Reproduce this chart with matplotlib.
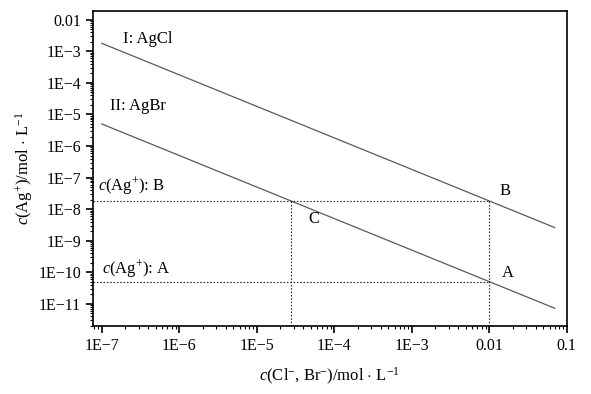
import matplotlib
matplotlib.use("Agg")
import matplotlib.pyplot as plt
from matplotlib.ticker import FixedLocator, FixedFormatter, LogLocator, NullFormatter

plt.rcParams['font.family'] = ['Liberation Serif', 'DejaVu Serif']
plt.rcParams['mathtext.fontset'] = 'custom'
plt.rcParams['mathtext.rm'] = 'Liberation Serif'
plt.rcParams['mathtext.it'] = 'Liberation Serif:italic'

# line end points (straight lines on log-log axes)
x_ends = [1e-7, 0.07]
agcl_y = [1.8e-3, 2.6e-9]
agbr_y = [5e-6, 7.2e-12]

# marked points
pt_names = ['A', 'B', 'C']
pt_x = [0.01, 0.01, 2.8e-5]
pt_y = [5e-11, 1.8e-8, 1.8e-8]

x_ticks = [1e-7, 1e-6, 1e-5, 1e-4, 1e-3, 0.01, 0.1]
x_labels = ['1E\u22127', '1E\u22126', '1E\u22125', '1E\u22124', '1E\u22123', '0.01', '0.1']
y_ticks = [1e-11, 1e-10, 1e-9, 1e-8, 1e-7, 1e-6, 1e-5, 1e-4, 1e-3, 0.01]
y_labels = ['1E\u221211', '1E\u221210', '1E\u22129', '1E\u22128', '1E\u22127',
            '1E\u22126', '1E\u22125', '1E\u22124', '1E\u22123', '0.01']

fig = plt.figure(figsize=(5.91, 3.94), dpi=100)
ax = fig.add_axes([0.157, 0.173, 0.802, 0.799])
ax.set_xscale('log')
ax.set_yscale('log')
ax.set_xlim(7.65e-8, 0.1)
ax.set_ylim(2e-12, 1.9e-2)

ax.plot(x_ends, agcl_y, color='#5a5a5a', lw=0.9)
ax.plot(x_ends, agbr_y, color='#5a5a5a', lw=0.9)

xmin = ax.get_xlim()[0]
ymin = ax.get_ylim()[0]
dot = dict(color='#333333', lw=0.8, ls=(0, (1.5, 1.5)))
# horizontal guides from y axis to x = 0.01
ax.plot([xmin, pt_x[0]], [pt_y[0], pt_y[0]], **dot)
ax.plot([xmin, pt_x[1]], [pt_y[1], pt_y[1]], **dot)
# vertical guides from x axis up to B and C
ax.plot([pt_x[1], pt_x[1]], [ymin, pt_y[1]], **dot)
ax.plot([pt_x[2], pt_x[2]], [ymin, pt_y[2]], **dot)

fs = 12
ax.text(1.9e-7, 2.5e-3, 'I: AgCl', fontsize=fs, va='center')
ax.text(1.27e-7, 1.8e-5, 'II: AgBr', fontsize=fs, va='center')
ax.text(9.0e-8, 5.6e-8, r'$c$(Ag$^{+}$): B', fontsize=fs, va='center')
ax.text(1.0e-7, 1.3e-10, r'$c$(Ag$^{+}$): A', fontsize=fs, va='center')
ax.text(pt_x[1] * 1.37, pt_y[1] * 2.05, pt_names[1], fontsize=fs, va='center')
ax.text(pt_x[2] * 1.65, pt_y[2] / 3.7, pt_names[2], fontsize=fs, va='center')
ax.text(pt_x[0] * 1.45, pt_y[0] * 1.85, pt_names[0], fontsize=fs, va='center')

ax.xaxis.set_major_locator(FixedLocator(x_ticks))
ax.xaxis.set_major_formatter(FixedFormatter(x_labels))
ax.yaxis.set_major_locator(FixedLocator(y_ticks))
ax.yaxis.set_major_formatter(FixedFormatter(y_labels))
ax.xaxis.set_minor_locator(LogLocator(base=10, subs=range(2, 10), numticks=20))
ax.yaxis.set_minor_locator(LogLocator(base=10, subs=range(2, 10), numticks=20))
ax.xaxis.set_minor_formatter(NullFormatter())
ax.yaxis.set_minor_formatter(NullFormatter())
ax.tick_params(which='major', direction='out', length=5, width=1.2, labelsize=11.5,
               top=False, right=False)
ax.tick_params(which='minor', direction='out', length=2.5, width=0.8,
               top=False, right=False)

for s in ax.spines.values():
    s.set_linewidth(1.2)

ax.set_xlabel(r'$c$(Cl$^{-}$, Br$^{-}$)/mol $\cdot$ L$^{-1}$', fontsize=fs, labelpad=9)
ax.set_ylabel(r'$c$(Ag$^{+}$)/mol $\cdot$ L$^{-1}$', fontsize=fs, labelpad=2)

fig.savefig('out.png', dpi=100)
